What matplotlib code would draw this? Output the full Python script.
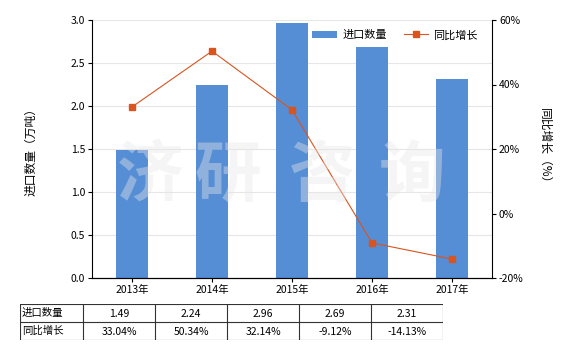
import matplotlib.pyplot as plt
import numpy as np

plt.rcParams['font.family'] = ['Noto Sans CJK SC', 'DejaVu Sans']

years = ['2013年', '2014年', '2015年', '2016年', '2017年']
importQty = [1.49, 2.24, 2.96, 2.69, 2.31]
growthPct = [33.04, 50.34, 32.14, -9.12, -14.13]
qtyLabels = ['1.49', '2.24', '2.96', '2.69', '2.31']
growthLabels = ['33.04%', '50.34%', '32.14%', '-9.12%', '-14.13%']

barColor = '#558ed5'
lineColor = '#d9541e'
fs = 7.5

fig = plt.figure(figsize=(5.8, 3.5), dpi=100)
W, H = 580.0, 350.0
ax = fig.add_axes([92 / W, 1 - 278 / H, 400 / W, 258 / H])
x = np.arange(len(years))

ax.bar(x, importQty, width=0.4, color=barColor, zorder=2, label='进口数量')
ax.set_xlim(-0.5, len(years) - 0.5)
ax.set_ylim(0, 3.0)
ax.set_yticks(np.arange(0, 3.01, 0.5))
ax.set_yticklabels(['%.1f' % v for v in np.arange(0, 3.01, 0.5)], fontsize=fs)
ax.set_xticks(x)
ax.set_xticklabels(years, fontsize=fs)
ax.grid(axis='y', color='#e6e6e6', linewidth=0.8, zorder=0)
ax.spines['top'].set_visible(False)
ax.spines['right'].set_visible(False)
ax.tick_params(length=3, width=0.8, pad=2)
ax.set_ylabel('进口数量（万吨）', fontsize=fs + 1, labelpad=24)

ax2 = ax.twinx()
ax2.plot(x, growthPct, color=lineColor, linewidth=0.8, marker='s', markersize=4,
         zorder=3, label='同比增长')
ax2.set_ylim(-20, 60)
ax2.set_yticks([-20, 0, 20, 40, 60])
ax2.set_yticklabels(['-20%', '0%', '20%', '40%', '60%'], fontsize=fs)
ax2.spines['top'].set_visible(False)
ax2.spines['left'].set_visible(False)
ax2.tick_params(length=3, width=0.8, pad=2)
ax2.set_ylabel('同比增长（%）', fontsize=fs + 1, rotation=-90, labelpad=20)

# watermark, one character at a time so the spacing is wide
for ch, cx in zip('济研咨询', [150, 228, 322, 412]):
    fig.text(cx / W, 1 - 176 / H, ch, fontsize=48, color='#e8e8e8', alpha=0.4,
             ha='center', va='center', fontweight='bold', zorder=5)

h1, l1 = ax.get_legend_handles_labels()
h2, l2 = ax2.get_legend_handles_labels()
ax2.legend(h1 + h2, l1 + l2, loc='upper right', bbox_to_anchor=(0.99, 1.0), ncol=2,
           frameon=False, fontsize=fs + 0.5, handlelength=2.2, columnspacing=1.5,
           handletextpad=0.5)

# data table below
tab = fig.add_axes([20 / W, 1 - 340 / H, 423 / W, 36 / H])
tab.set_xlim(20, 443)
tab.set_ylim(340, 304)
tab.axis('off')
colEdges = [20, 83, 155, 227, 299, 371, 443]
rowEdges = [304, 322, 340]
for cx in colEdges:
    tab.plot([cx, cx], [304, 340], color='#333333', linewidth=0.8)
for ry in rowEdges:
    tab.plot([20, 443], [ry, ry], color='#333333', linewidth=0.8)
rows = [('进口数量', qtyLabels), ('同比增长', growthLabels)]
for r, (name, vals) in enumerate(rows):
    yc = (rowEdges[r] + rowEdges[r + 1]) / 2
    tab.text(22, yc, name, fontsize=fs, ha='left', va='center')
    for c, v in enumerate(vals):
        xc = (colEdges[c + 1] + colEdges[c + 2]) / 2
        tab.text(xc, yc + 1, v, fontsize=fs, ha='center', va='center')

fig.savefig('out.png', dpi=100)
